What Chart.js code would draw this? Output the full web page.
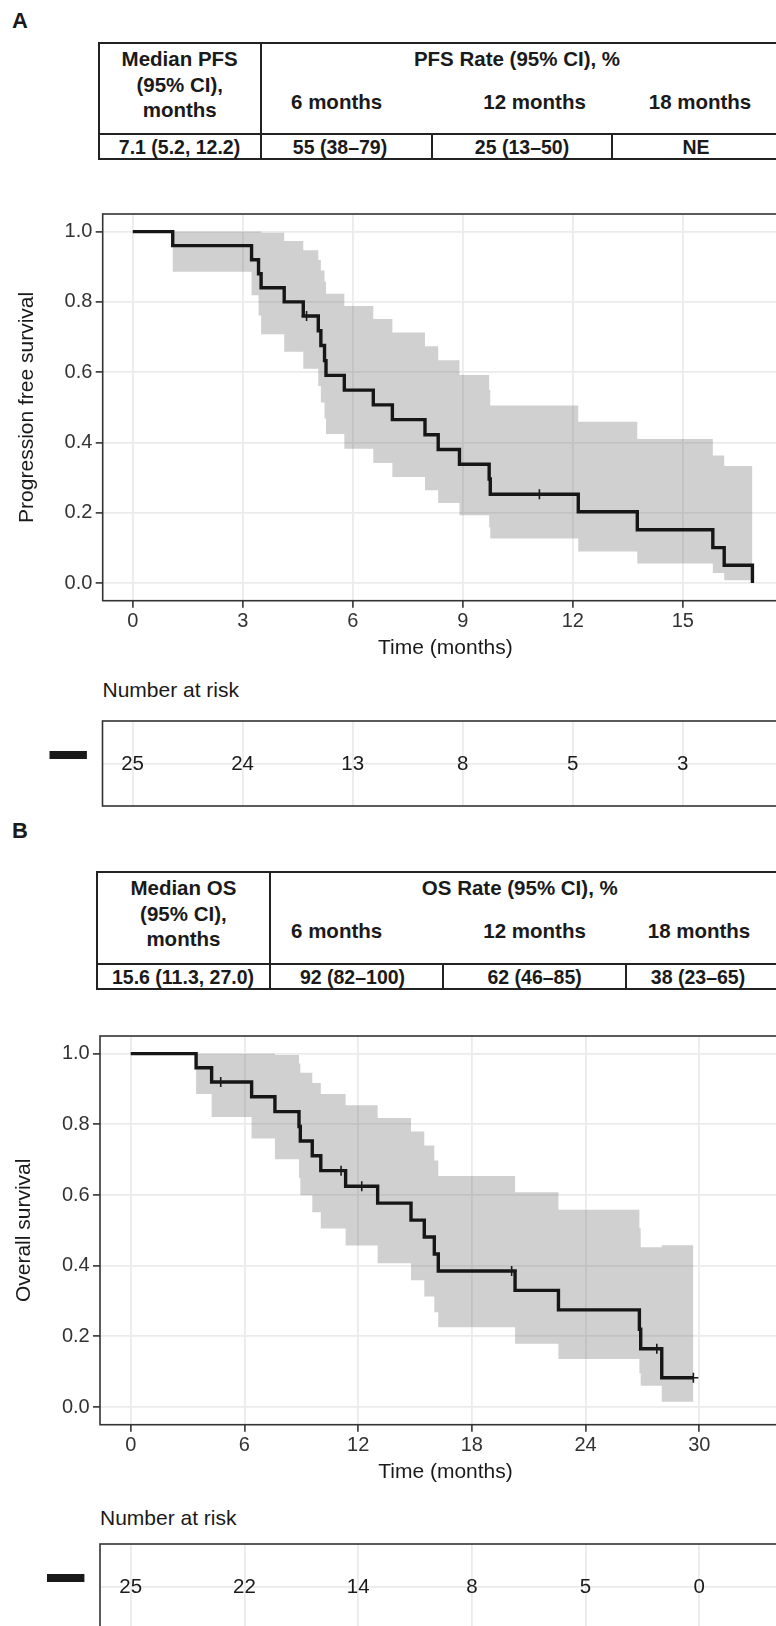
<!DOCTYPE html>
<html>
<head>
<meta charset="utf-8">
<title>PFS and OS</title>
<script src="https://cdn.jsdelivr.net/npm/chart.js"></script>
<style>
  html, body { margin: 0; padding: 0; overflow: hidden; background: #fff; }
  #page { position: relative; width: 776px; height: 1626px; overflow: hidden;
          font-family: 'Liberation Sans', Arial, Helvetica, sans-serif; color: #1a1a1a; }
  .letter { position: absolute; font-weight: bold; font-size: 22px; line-height: 24px; }
  .hline { position: absolute; height: 2px; background: #222; }
  .vline { position: absolute; width: 2px; background: #222; }
  .cell { position: absolute; font-weight: bold; white-space: nowrap; transform: translateX(-50%); }
  .risk-title { position: absolute; font-size: 21px; line-height: 24px; }
  canvas { position: absolute; left: 0; }
</style>
</head>
<body>
<div id="page">
  <div class="letter" style="left:12px; top:8.5px;">A</div>
  <div class="letter" style="left:12px; top:818.5px;">B</div>
  <div class="risk-title" style="left:102.5px; top:678px;">Number at risk</div>
  <div class="risk-title" style="left:100px; top:1506px;">Number at risk</div>
  <canvas id="pfsChart" width="800" height="490" style="top:184px;"></canvas>
  <canvas id="pfsRisk" width="800" height="98" style="top:711px;"></canvas>
  <canvas id="osChart" width="800" height="492" style="top:1006px;"></canvas>
  <canvas id="osRisk" width="800" height="98" style="top:1534px;"></canvas>
</div>
<script>
// ---- panel A: progression free survival
const pfsTime  = [0, 1.09, 3.24, 3.43, 3.50, 4.13, 4.65, 5.06, 5.13, 5.23, 5.27, 5.77, 6.56, 7.08, 7.97, 8.33, 8.91, 9.72, 9.75, 12.15, 13.76, 15.82, 16.13, 16.90];
const pfsSurv  = [1.0, 0.96, 0.92, 0.88, 0.84, 0.80, 0.76, 0.718, 0.676, 0.633, 0.591, 0.549, 0.507, 0.465, 0.422, 0.38, 0.338, 0.296, 0.253, 0.203, 0.152, 0.101, 0.051, 0.0];
const pfsUpper = [1.0, 1.0, 1.0, 1.0, 0.997, 0.973, 0.947, 0.919, 0.889, 0.857, 0.823, 0.788, 0.751, 0.713, 0.674, 0.634, 0.592, 0.549, 0.505, 0.459, 0.41, 0.363, 0.333, 0.333];
const pfsLower = [1.0, 0.886, 0.819, 0.761, 0.708, 0.658, 0.61, 0.561, 0.514, 0.468, 0.424, 0.382, 0.342, 0.302, 0.264, 0.228, 0.193, 0.159, 0.127, 0.09, 0.056, 0.029, 0.008, 0.008];
const pfsCensorTime = [4.74, 11.09];
const pfsCensorSurv = [0.76, 0.253];
const pfsTicks = [0, 3, 6, 9, 12, 15];
const pfsRiskCount = [25, 24, 13, 8, 5, 3];

// ---- panel B: overall survival
const osTime  = [0, 3.45, 4.27, 6.38, 7.61, 8.88, 8.95, 9.58, 10.03, 11.34, 13.03, 14.79, 15.49, 16.02, 16.23, 20.28, 22.57, 26.84, 26.91, 28.02, 29.69];
const osSurv  = [1.0, 0.96, 0.92, 0.878, 0.836, 0.794, 0.753, 0.711, 0.669, 0.625, 0.577, 0.529, 0.481, 0.433, 0.385, 0.33, 0.275, 0.22, 0.165, 0.083, 0.083];
const osUpper = [1.0, 1.0, 1.0, 1.0, 0.996, 0.972, 0.946, 0.917, 0.886, 0.854, 0.818, 0.78, 0.74, 0.698, 0.654, 0.608, 0.558, 0.506, 0.452, 0.458, 0.458];
const osLower = [1.0, 0.886, 0.821, 0.76, 0.701, 0.649, 0.599, 0.551, 0.505, 0.457, 0.407, 0.359, 0.313, 0.268, 0.226, 0.179, 0.136, 0.096, 0.06, 0.015, 0.015];
const osCensorTime = [4.75, 11.1, 12.19, 20.1, 27.76, 29.69];
const osCensorSurv = [0.92, 0.669, 0.625, 0.385, 0.165, 0.083];
const osTicks = [0, 6, 12, 18, 24, 30];
const osRiskCount = [25, 22, 14, 8, 5, 0];

const survTicks = [0, 0.2, 0.4, 0.6, 0.8, 1.0];

// ---- summary tables
const rateColumns = ['6 months', '12 months', '18 months'];
const pfsHeadLeft = ['Median PFS', '(95% CI),', 'months'];
const pfsHeadRate = 'PFS Rate (95% CI), %';
const pfsRow = ['7.1 (5.2, 12.2)', '55 (38–79)', '25 (13–50)', 'NE'];
const osHeadLeft = ['Median OS', '(95% CI),', 'months'];
const osHeadRate = 'OS Rate (95% CI), %';
const osRow = ['15.6 (11.3, 27.0)', '92 (82–100)', '62 (46–85)', '38 (23–65)'];

const page = document.getElementById('page');

function addDiv(cls, css, txt) {
  const d = document.createElement('div');
  d.className = cls;
  for (const k in css) d.style[k] = css[k];
  if (txt !== undefined) d.textContent = txt;
  page.appendChild(d);
}

function buildTable(t) {
  const w = (800 - t.left) + 'px';
  addDiv('hline', {left: (t.left - 1) + 'px', top: (t.top - 1) + 'px', width: w});
  addDiv('hline', {left: (t.left - 1) + 'px', top: (t.head - 1) + 'px', width: w});
  addDiv('hline', {left: (t.left - 1) + 'px', top: (t.bottom - 1) + 'px', width: w});
  addDiv('vline', {left: (t.left - 1) + 'px', top: (t.top - 1) + 'px', height: (t.bottom - t.top + 2) + 'px'});
  addDiv('vline', {left: (t.colSep - 1) + 'px', top: (t.top - 1) + 'px', height: (t.bottom - t.top + 2) + 'px'});
  t.bodySeps.forEach(x => addDiv('vline', {left: (x - 1) + 'px', top: (t.head - 1) + 'px', height: (t.bottom - t.head + 2) + 'px'}));

  const head = {fontSize: '20.5px', lineHeight: '25.6px'};
  t.headLeft.forEach((s, i) => addDiv('cell', Object.assign({left: t.leftX + 'px', top: (t.top + 3.4 + i * 25.6) + 'px'}, head), s));
  addDiv('cell', Object.assign({left: t.rateX + 'px', top: (t.top + 3.4) + 'px'}, head), t.headRate);
  rateColumns.forEach((s, i) => addDiv('cell', Object.assign({left: t.monthX[i] + 'px', top: (t.top + 46.7) + 'px'}, head), s));
  const mid = (t.head + t.bottom) / 2;
  t.row.forEach((s, i) => addDiv('cell', {left: t.bodyX[i] + 'px', top: (mid - 12) + 'px', fontSize: '19.5px', lineHeight: '25px'}, s));
}

buildTable({top: 42.7, head: 134.3, bottom: 159.3, left: 98.7, colSep: 260.7, bodySeps: [431.7, 611.9],
  leftX: 179.7, rateX: 517, monthX: [336.6, 534.6, 700], bodyX: [179.5, 340, 522, 696],
  headLeft: pfsHeadLeft, headRate: pfsHeadRate, row: pfsRow});
buildTable({top: 871.7, head: 964, bottom: 989.3, left: 96.5, colSep: 270.3, bodySeps: [443, 625.7],
  leftX: 183.4, rateX: 519.8, monthX: [336.6, 534.6, 699], bodyX: [183, 352.5, 534.6, 698],
  headLeft: osHeadLeft, headRate: osHeadRate, row: osRow});

Chart.defaults.font.family = "'Liberation Sans', Arial, Helvetica, sans-serif";
Chart.defaults.color = '#333';

// panel border drawn over the data, like ggplot's panel.border
const framePlugin = {
  id: 'frame',
  afterDraw(chart) {
    const {ctx, chartArea: a} = chart;
    ctx.save();
    ctx.strokeStyle = '#333';
    ctx.lineWidth = 1.6;
    ctx.strokeRect(a.left, a.top, a.right - a.left, a.bottom - a.top);
    ctx.restore();
  }
};

const riskLabels = {
  id: 'riskLabels',
  afterDatasetsDraw(chart, args, opts) {
    const {ctx, chartArea: a} = chart;
    const meta = chart.getDatasetMeta(0);
    ctx.save();
    ctx.fillStyle = '#1a1a1a';
    ctx.font = "20.5px 'Liberation Sans', Arial, sans-serif";
    ctx.textAlign = 'center';
    ctx.textBaseline = 'middle';
    meta.data.forEach((pt, i) => ctx.fillText(String(opts.counts[i]), pt.x, pt.y + 1.2));
    // strata key: thick black dash left of the table
    ctx.fillRect(a.left - 53, meta.data[0].y - 8.5 - 4, 37.4, 8);
    ctx.restore();
  }
};

const gridStyle = {color: '#ebebeb', lineWidth: 1.8, tickColor: '#333', tickWidth: 1.6, tickLength: 7};
const pts = (xs, ys) => xs.map((x, i) => ({x: x, y: ys[i]}));

function kmChart(id, d) {
  new Chart(document.getElementById(id), {
    type: 'line',
    data: {
      datasets: [
        {data: pts(d.time, d.upper), stepped: 'before', borderColor: 'transparent', pointRadius: 0,
         fill: '+1', backgroundColor: 'rgba(100,100,100,0.3)', order: 2},
        {data: pts(d.time, d.lower), stepped: 'before', borderColor: 'transparent', pointRadius: 0,
         fill: false, order: 2},
        {data: pts(d.time, d.surv), stepped: 'before', borderColor: '#161616', borderWidth: 3.4,
         pointRadius: 0, fill: false, order: 1},
        {type: 'scatter', data: pts(d.censorT, d.censorS), pointStyle: 'cross', pointRadius: 5,
         borderWidth: 1.6, borderColor: '#1a1a1a', showLine: false, order: 0}
      ]
    },
    options: {
      responsive: false,
      animation: false,
      layout: {padding: {top: 30, right: d.rightPad, left: 0, bottom: 0}},
      plugins: {legend: {display: false}, tooltip: {enabled: false}},
      scales: {
        x: {
          type: 'linear', min: d.xMin, max: d.xMax,
          afterBuildTicks: s => { s.ticks = d.xTicks.map(v => ({value: v})); },
          afterFit: s => { s.height = 73.3; },
          grid: gridStyle,
          border: {display: false},
          ticks: {color: '#333', font: {size: 20}, padding: 2, maxRotation: 0, autoSkip: false},
          title: {display: true, text: 'Time (months)', color: '#1a1a1a', font: {size: 21}, padding: {top: 0, bottom: 13.4}}
        },
        y: {
          min: -0.05, max: 1.05,
          afterBuildTicks: s => { s.ticks = survTicks.map(v => ({value: v})); },
          afterFit: s => { s.width = d.frameLeft; },
          grid: gridStyle,
          border: {display: false},
          ticks: {color: '#333', font: {size: 20}, padding: 3.3, callback: v => v.toFixed(1)},
          title: {display: true, text: d.yTitle, color: '#1a1a1a', font: {size: 21}, padding: {top: d.titlePad, bottom: 0}}
        }
      }
    },
    plugins: [framePlugin]
  });
}

function riskChart(id, d) {
  new Chart(document.getElementById(id), {
    type: 'scatter',
    data: {datasets: [{data: d.xTicks.map(t => ({x: t, y: 0.5})), pointRadius: 0}]},
    options: {
      responsive: false,
      animation: false,
      layout: {padding: {top: 10, right: d.rightPad, left: 0, bottom: 3}},
      plugins: {legend: {display: false}, tooltip: {enabled: false}, riskLabels: {counts: d.counts}},
      scales: {
        x: {
          type: 'linear', min: d.xMin, max: d.xMax,
          afterBuildTicks: s => { s.ticks = d.xTicks.map(v => ({value: v})); },
          afterFit: s => { s.height = 0; },
          grid: {color: '#ebebeb', lineWidth: 1.8, drawTicks: false},
          border: {display: false},
          ticks: {display: false}
        },
        y: {
          min: 0, max: 1,
          afterBuildTicks: s => { s.ticks = [{value: 0.5}]; },
          afterFit: s => { s.width = d.frameLeft; },
          grid: {color: '#ebebeb', lineWidth: 1.8, drawTicks: false},
          border: {display: false},
          ticks: {display: false}
        }
      }
    },
    plugins: [framePlugin, riskLabels]
  });
}

kmChart('pfsChart', {time: pfsTime, surv: pfsSurv, upper: pfsUpper, lower: pfsLower,
  censorT: pfsCensorTime, censorS: pfsCensorSurv, xTicks: pfsTicks, xMin: -0.82, xMax: 17.87,
  frameLeft: 102.7, rightPad: 12, titlePad: 14.4, yTitle: 'Progression free survival'});
riskChart('pfsRisk', {xTicks: pfsTicks, counts: pfsRiskCount, xMin: -0.82, xMax: 17.87, frameLeft: 102.5, rightPad: 12});

kmChart('osChart', {time: osTime, surv: osSurv, upper: osUpper, lower: osLower,
  censorT: osCensorTime, censorS: osCensorSurv, xTicks: osTicks, xMin: -1.62, xMax: 34.84,
  frameLeft: 100, rightPad: 9, titlePad: 11.4, yTitle: 'Overall survival'});
riskChart('osRisk', {xTicks: osTicks, counts: osRiskCount, xMin: -1.62, xMax: 34.84, frameLeft: 100, rightPad: 9});
</script>
</body>
</html>
